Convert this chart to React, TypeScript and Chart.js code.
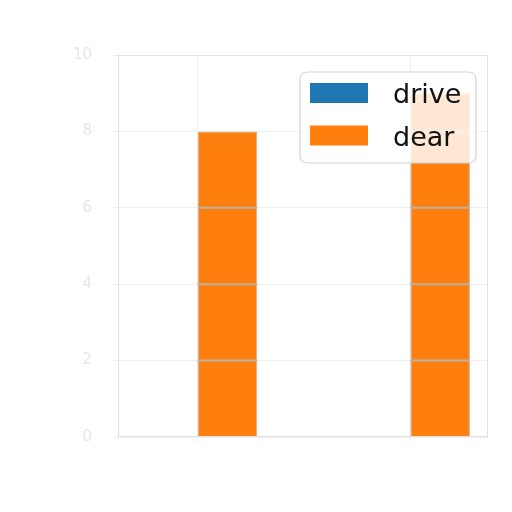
import React, { useEffect, useRef } from "react";
import { Chart, registerables } from "chart.js";

Chart.register(...registerables);

const categoryPositions = [0, 1];
const seriesNames = ["drive", "dear"];
const driveValues = [0, 0];
const dearValues = [8, 9];
const yTickValues = [0, 2, 4, 6, 8, 10];
const seriesColors = ["#1f77b4", "#ff7f0e"];

const overlayPlugin = {
  id: "overlay",
  afterDatasetsDraw(chart: any) {
    const ctx = chart.ctx;
    const y = chart.scales.y;
    const meta = chart.getDatasetMeta(1);
    ctx.save();
    ctx.strokeStyle = "#bab2a5";
    ctx.lineWidth = 2;
    meta.data.forEach((bar: any) => {
      const left = bar.x - bar.width / 2;
      const right = bar.x + bar.width / 2;
      yTickValues.forEach((v) => {
        const py = y.getPixelForValue(v);
        if (py > bar.y + 1 && py < bar.base - 1) {
          ctx.beginPath();
          ctx.moveTo(left, py);
          ctx.lineTo(right, py);
          ctx.stroke();
        }
      });
    });
    ctx.restore();
  },
  afterDraw(chart: any) {
    const ctx = chart.ctx;
    const a = chart.chartArea;
    ctx.save();
    ctx.strokeStyle = "#e2e2e2";
    ctx.lineWidth = 1;
    ctx.strokeRect(a.left + 0.5, a.top + 0.5, a.right - a.left - 1, a.bottom - a.top - 1);
    const bw = 176;
    const bh = 91;
    const bx = a.right - 12 - bw;
    const by = a.top + 17;
    const r = 8;
    ctx.beginPath();
    ctx.moveTo(bx + r, by);
    ctx.lineTo(bx + bw - r, by);
    ctx.quadraticCurveTo(bx + bw, by, bx + bw, by + r);
    ctx.lineTo(bx + bw, by + bh - r);
    ctx.quadraticCurveTo(bx + bw, by + bh, bx + bw - r, by + bh);
    ctx.lineTo(bx + r, by + bh);
    ctx.quadraticCurveTo(bx, by + bh, bx, by + bh - r);
    ctx.lineTo(bx, by + r);
    ctx.quadraticCurveTo(bx, by, bx + r, by);
    ctx.closePath();
    ctx.fillStyle = "rgba(255,255,255,0.82)";
    ctx.fill();
    ctx.strokeStyle = "#d4d4d4";
    ctx.lineWidth = 1.2;
    ctx.stroke();
    ctx.font = "27px 'DejaVu Sans'";
    ctx.textBaseline = "alphabetic";
    ctx.textAlign = "left";
    seriesNames.forEach((name, i) => {
      const rowTop = by + 11 + i * 42.5;
      ctx.fillStyle = seriesColors[i];
      ctx.fillRect(bx + 10, rowTop, 58, 20);
      ctx.fillStyle = "#111111";
      ctx.fillText(name, bx + 93, rowTop + 20);
    });
    ctx.restore();
  },
};

export default function App() {
  const ref = useRef<HTMLCanvasElement | null>(null);
  useEffect(() => {
    if (!ref.current) return;
    const chart = new Chart(ref.current, {
      type: "bar",
      data: {
        datasets: [
          {
            label: seriesNames[0],
            data: categoryPositions.map((x, i) => ({ x, y: driveValues[i] })),
            backgroundColor: seriesColors[0],
            borderWidth: 0,
          },
          {
            label: seriesNames[1],
            data: categoryPositions.map((x, i) => ({ x, y: dearValues[i] })),
            backgroundColor: seriesColors[1],
            borderColor: "#b8b0a4",
            borderWidth: 1,
          },
        ],
      },
      options: {
        responsive: false,
        animation: false,
        devicePixelRatio: 1,
        categoryPercentage: 0.56,
        barPercentage: 1,
        layout: { padding: { left: 0, right: 24, top: 55, bottom: 75 } },
        plugins: {
          legend: { display: false },
          tooltip: { enabled: false },
        },
        scales: {
          x: {
            type: "linear",
            offset: false,
            min: -0.375,
            max: 1.365,
            afterBuildTicks: (s: any) => {
              s.ticks = categoryPositions.map((v) => ({ value: v }));
            },
            afterFit: (s: any) => {
              s.height = 0;
            },
            ticks: { display: false },
            grid: { offset: false, color: "#ececec", tickLength: 5, lineWidth: 1 },
            border: { display: false },
          },
          y: {
            min: 0,
            max: 10,
            afterBuildTicks: (s: any) => {
              s.ticks = yTickValues.map((v) => ({ value: v }));
            },
            afterFit: (s: any) => {
              s.width = 118;
            },
            ticks: {
              color: "#e6e6e6",
              padding: 21,
              font: { family: "'DejaVu Sans'", size: 15 },
            },
            grid: { color: "#efefef", tickLength: 5, lineWidth: 1 },
            border: { display: true, color: "#e4e4e4" },
          },
        },
      },
      plugins: [overlayPlugin],
    });
    return () => chart.destroy();
  }, []);
  return (
    <div style={{ position: "fixed", left: 0, top: 0, width: 512, height: 512, background: "#ffffff" }}>
      <canvas ref={ref} width={512} height={512} style={{ display: "block", width: 512, height: 512 }} />
    </div>
  );
}
